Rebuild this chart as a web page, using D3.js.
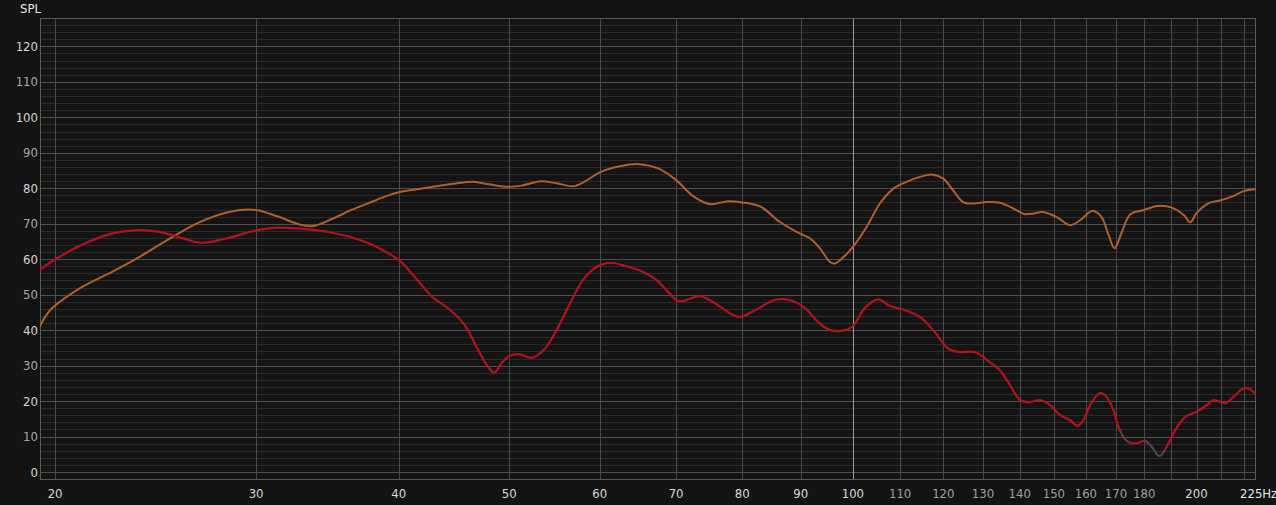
<!DOCTYPE html>
<html><head><meta charset="utf-8">
<script src="https://cdn.jsdelivr.net/npm/d3@7"></script>
<style>
html,body{margin:0;padding:0;background:#131313;}
svg{display:block;}
text{font-family:"Liberation Sans Narrow","Arial Narrow","DejaVu Sans Condensed",sans-serif;font-size:13px;}
</style></head>
<body>
<svg id="c" width="1276" height="505"></svg>
<script>
// ---- data ----
const orangeFreq = [19.4,19.8,21.0,22.3,23.7,25.2,26.8,28.4,29.5,30.1,31.3,32.75,33.6,35,36.2,37.5,38.8,40,42.5,45,46.5,48,50,51.5,53.3,55,57,58.5,60,62.5,65,67.5,70,72.5,75,77.5,80,83,86.3,89.9,91.7,93.6,95.5,96.4,98.1,100,102.8,105.6,108.5,111.4,114.5,117.2,120,122.4,124.9,127.5,131,134.5,138.2,141.4,143.9,146.8,150.8,155,158.2,162,165,167.5,169.5,172,175,179.5,185,190,195,197.5,200,205,210,215,220,225.5];
const orangeSpl  = [41.1,45.6,51.7,56,60.6,65.8,70.5,73.3,74,73.8,72.1,69.8,69.3,71.4,73.6,75.6,77.5,78.9,80.2,81.4,81.8,81.1,80.4,80.9,82,81.4,80.6,82.3,84.5,86.2,86.8,85.6,82.3,77.7,75.5,76.3,76,74.8,70.5,67.2,65.9,63,59.2,58.8,60.6,63.5,69.1,75.7,79.9,81.8,83.2,83.9,82.7,79.4,76.1,75.7,76.1,75.9,74.3,72.7,72.9,73.3,71.9,69.6,71.0,73.6,72.1,66.8,63.1,67.6,72.7,73.8,75,74.6,72.4,70.4,73,75.8,76.6,77.7,79.2,79.7];
const redFreq = [19.4,20,21,22.3,23.7,24.7,25.75,26.9,28.2,30.1,31.3,32.75,34.8,37,38.5,40.1,41.4,42.8,44.4,45.7,46.8,47.8,48.5,49.2,50,51,52.3,53.6,55,56.5,58,59.6,61.3,63.3,65.5,67.3,69.1,70.3,71.2,73.4,75.7,78,79.6,82.1,85.4,88,90.8,93.2,95.5,98.4,100,102.4,105.2,107.8,111.1,114.5,118,121.1,124,127.9,131.8,134.5,137.3,140.1,142.9,145.8,148.8,151.8,155,157.3,159.2,161.4,164.5,166.8,169.1,171.3,174.2,177.2,180.3,182.7,185.6,188.3,191.6,195.6,200,204.3,207,212,215.5,220,223,225.5];
const redSpl  = [57.1,59.9,63.7,67,68.2,67.7,66.1,64.6,65.8,68.2,68.9,68.6,67.6,65.4,63,59.5,54.6,49.4,45.6,41.4,35.3,30.1,28,30.6,32.7,33.2,32.2,34.4,40,47.5,54.1,57.8,59,58,56.4,54.1,50.3,48.2,48.3,49.6,47.6,44.8,43.7,45.6,48.5,48.5,46.2,42.3,40,40,41.1,46.2,48.7,46.8,45.6,43.7,39.4,34.9,33.8,33.8,31,28.7,24.5,20.3,19.7,20.3,18.9,16.1,14.6,13,14.6,18.9,22.2,21.2,17.5,11.8,8.5,8.1,8.8,7.1,4.5,7.1,11.8,15.6,17,18.9,20.3,19.4,21.2,23.6,23.3,21.7];
const redGrayRanges = [[171.6,174.2],[180.5,187.2]];
const xTickValues = [20,30,40,50,60,70,80,90,100,110,120,130,140,150,160,170,180,200];
const xMajorLabels = [20,30,40,50,60,70,80,90,100,200];
const xGridValues = [20,30,40,50,60,70,80,90,100,110,120,130,140,150,160,170,180,190,200,210,220];
const yTickValues = [0,10,20,30,40,50,60,70,80,90,100,110,120];
const yMinorValues = d3.range(-2, 129, 2);
const yAxisTitle = "SPL";
const xEndLabel = "225Hz";

// ---- layout ----
const L = 40, R = 1256, T = 18, B = 480;
const svg = d3.select("#c");
const x = d3.scaleLog().domain([19.4, 225.5]).range([L, R]);
const y = d3.scaleLinear().domain([-2.25, 128]).range([B, T]);

svg.append("rect").attr("width",1276).attr("height",505).attr("fill","#131313");
svg.append("rect").attr("x",L).attr("y",T).attr("width",R-L).attr("height",B-T).attr("fill","#141414");

const g = svg.append("g");
g.selectAll(".hmin").data(yMinorValues.filter(v=>v%10!==0)).join("line")
  .attr("x1",L).attr("x2",R).attr("y1",d=>Math.round(y(d))+0.5).attr("y2",d=>Math.round(y(d))+0.5)
  .attr("stroke","#2b2b2b").attr("stroke-width",1);
g.selectAll(".hmaj").data(yTickValues).join("line")
  .attr("x1",L).attr("x2",R).attr("y1",d=>Math.round(y(d))+0.5).attr("y2",d=>Math.round(y(d))+0.5)
  .attr("stroke","#4e4e4e").attr("stroke-width",1);
g.selectAll(".v").data(xGridValues).join("line")
  .attr("x1",d=>Math.round(x(d))+0.5).attr("x2",d=>Math.round(x(d))+0.5).attr("y1",T).attr("y2",B)
  .attr("stroke",d=>d===100?"#9a9a9a":"#4a4a4a").attr("stroke-width",1);
svg.append("rect").attr("x",L+0.5).attr("y",T+0.5).attr("width",R-L-1).attr("height",B-T-1)
  .attr("fill","none").attr("stroke","#5a5a5a");

svg.selectAll(".yl").data(yTickValues).join("text")
  .attr("x",38).attr("y",d=>y(d)).attr("dy","0.35em").attr("text-anchor","end")
  .attr("fill",d=>d%20===0?"#d4d4d4":"#a8a8a8").text(d=>d);
svg.append("text").attr("x",20).attr("y",8).attr("dy","0.35em").attr("fill","#e6e6e6").text(yAxisTitle);

svg.selectAll(".xl").data(xTickValues).join("text")
  .attr("x",d=>x(d)).attr("y",493).attr("dy","0.35em").attr("text-anchor","middle")
  .attr("fill",d=>xMajorLabels.includes(d)?"#d8d8d8":"#a0a0a0").text(d=>d);
svg.append("text").attr("x",1240).attr("y",493).attr("dy","0.35em").attr("fill","#e6e6e6").text(xEndLabel);

const defs = svg.append("defs");
const grad = defs.append("linearGradient").attr("id","redg").attr("gradientUnits","userSpaceOnUse")
  .attr("x1",L).attr("x2",R).attr("y1",0).attr("y2",0);
const red = "#b3121b", gray = "#4a4a4a";
const off = f => (x(f)-L)/(R-L);
const stops = [[0,red]];
redGrayRanges.forEach(([a,b])=>{
  stops.push([off(a)-0.002,red],[off(a)+0.002,gray],[off(b)-0.002,gray],[off(b)+0.002,red]);
});
stops.push([1,red]);
stops.forEach(([o,c])=>grad.append("stop").attr("offset",o).attr("stop-color",c));

const line = d3.line().x(d=>x(d[0])).y(d=>y(d[1])).curve(d3.curveCatmullRom.alpha(0.5));
const clip = defs.append("clipPath").attr("id","clip");
clip.append("rect").attr("x",L).attr("y",T).attr("width",R-L).attr("height",B-T);

svg.append("path").datum(d3.zip(orangeFreq,orangeSpl)).attr("d",line)
  .attr("fill","none").attr("stroke","#b0602a").attr("stroke-width",2).attr("clip-path","url(#clip)");
svg.append("path").datum(d3.zip(redFreq,redSpl)).attr("d",line)
  .attr("fill","none").attr("stroke","url(#redg)").attr("stroke-width",2.2).attr("clip-path","url(#clip)");
</script>
</body></html>
